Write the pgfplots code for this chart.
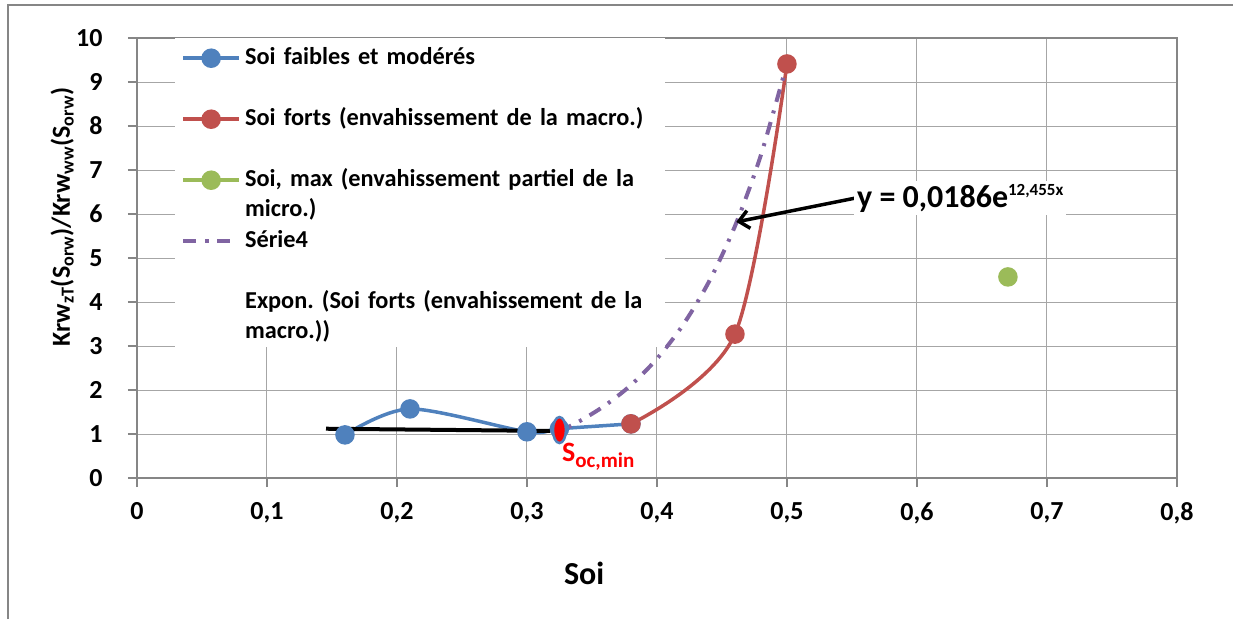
\documentclass[border=0pt]{standalone}
\usepackage{pgfplots}
\pgfplotsset{compat=1.18}
\usepackage{fontspec}
\setmainfont{Carlito}
\usetikzlibrary{arrows.meta}
\definecolor{xblue}{HTML}{4F81BD}
\definecolor{xred}{HTML}{C0504D}
\definecolor{xgreen}{HTML}{9BBB59}
\definecolor{xpurple}{HTML}{8064A2}
\definecolor{xgrid}{HTML}{A6A6A6}
\definecolor{xaxis}{HTML}{868686}
\frenchspacing
\begin{document}
\begin{tikzpicture}
\useasboundingbox (-137pt,-141pt) rectangle (1096pt,478pt);
\draw[color=xaxis, line width=2pt] (-129pt,-141pt) -- (-129pt,473pt) -- (1096pt,473pt);
\begin{axis}[
  scale only axis, width=1040pt, height=440pt,
  xmin=0, xmax=0.8, ymin=0, ymax=10,
  xtick={0,0.1,0.2,0.3,0.4,0.5,0.6,0.7,0.8},
  ytick={0,1,2,3,4,5,6,7,8,9,10},
  scaled ticks=false,
  /pgf/number format/assume math mode=true,
  xticklabel style={/pgf/number format/use comma, /pgf/number format/fixed, /pgf/number format/precision=1, font=\fontsize{26}{26}\selectfont\bfseries, yshift=-12pt},
  yticklabel style={font=\fontsize{26}{26}\selectfont\bfseries, xshift=-22pt},
  grid=major,
  major grid style={color=xgrid, line width=1pt},
  axis line style={color=xaxis, line width=1.2pt},
  tick style={color=xaxis, line width=1.2pt},
  tick align=outside, major tick length=9pt,
  xtick pos=bottom, ytick pos=left,
  xlabel={Soi},
  xlabel style={at={(axis description cs:0.43,-0.216)}, anchor=center, font=\fontsize{32}{32}\selectfont\bfseries},
  ylabel={Krw\textsubscript{zT}(S\textsubscript{orw})/Krw\textsubscript{ww}(S\textsubscript{orw})},
  ylabel style={at={(axis description cs:-0.072,0.593)}, anchor=center, font=\fontsize{26}{26}\selectfont\bfseries},
  clip=false,
  legend cell align=left,
  legend image code/.code={\draw[mark repeat=2,mark phase=2,#1] plot coordinates {(0pt,0pt) (28pt,0pt) (56pt,0pt)};},
  legend style={at={(axis description cs:0.0365,1)}, anchor=north west, fill=white, draw=none,
    inner sep=6pt, row sep=33pt, column sep=2pt,
    font=\fontsize{24.3}{30.5}\selectfont\bfseries,
    nodes={text width=412pt, align=left, text height=18pt, text depth=6pt, inner sep=2pt}},
]
\addplot[color=xblue, line width=3.5pt, smooth, mark=*, mark size=8pt, mark options={solid, fill=xblue}]
  coordinates {(0.16,0.98) (0.21,1.57) (0.30,1.05) (0.325,1.12) (0.38,1.23)};
\addlegendentry{Soi faibles et modérés}
\addplot[color=xred, line width=3.5pt, smooth, mark=*, mark size=8pt, mark options={solid, fill=xred}]
  coordinates {(0.38,1.23) (0.46,3.27) (0.50,9.41)};
\addlegendentry{Soi forts (envahissement de la macro.)}
\addplot[color=xgreen, line width=3.5pt, mark=*, mark size=8pt, mark options={solid, fill=xgreen}]
  coordinates {(0.67,4.57)};
\addlegendentry{Soi, max (envahissement partiel de la\\micro.)}
\addplot[color=xpurple, line width=4pt, smooth, dash pattern=on 13pt off 9pt on 3pt off 9pt]
  coordinates {(0.325,1.065) (0.34,1.284) (0.36,1.648) (0.38,2.113) (0.40,2.711) (0.42,3.478) (0.44,4.462) (0.46,5.724) (0.48,7.343) (0.50,9.42)};
\addlegendentry{Série4}
\addlegendimage{color=white, line width=0.1pt}
\addlegendentry[text depth=31pt]{Expon. (Soi forts (envahissement de la\\macro.))}
% annotations
\addplot[black, line width=4pt, forget plot] coordinates {(0.1454,1.12) (0.318,1.07)};
\addplot[only marks, forget plot, mark=*, mark size=13pt, mark options={xscale=0.5, fill=red, draw=xblue, line width=2.5pt}]
  coordinates {(0.325,1.09)};
\draw[line width=3.5pt, -{Straight Barb[length=10pt, width=18pt]}] (axis cs:0.5523,6.36) -- (axis cs:0.461,5.82);
\node[anchor=west, fill=white, inner sep=3pt, font=\fontsize{32}{32}\selectfont\bfseries] at (axis cs:0.5515,6.36)
  {y = 0,0186e\raisebox{12pt}{\fontsize{17}{17}\selectfont 12,455x}};
\node[anchor=base west, inner sep=0pt, text=red, font=\bfseries] at (axis cs:0.3269,0.364)
  {{\fontsize{28}{28}\selectfont S}\raisebox{-6pt}{\fontsize{21}{21}\selectfont oc,min}};
\end{axis}
\end{tikzpicture}
\end{document}
